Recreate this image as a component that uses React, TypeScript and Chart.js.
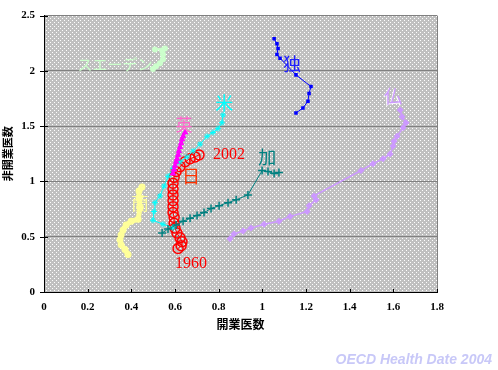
import React, { useEffect, useRef } from "react";
import { Chart, registerables } from "chart.js";
Chart.register(...registerables);

// ---- data (x: 開業医数, y: 非開業医数) ----
const xTickValues = [0, 0.2, 0.4, 0.6, 0.8, 1, 1.2, 1.4, 1.6, 1.8];
const yTickValues = [0, 0.5, 1, 1.5, 2, 2.5];

const japan = [
  [0.614, 0.393], [0.628, 0.419], [0.632, 0.455], [0.623, 0.49], [0.609, 0.534],
  [0.6, 0.578], [0.596, 0.622], [0.596, 0.675], [0.591, 0.719], [0.591, 0.772],
  [0.591, 0.825], [0.591, 0.878], [0.591, 0.931], [0.591, 0.984], [0.596, 1.037],
  [0.605, 1.09], [0.623, 1.134], [0.646, 1.178], [0.669, 1.205], [0.692, 1.222],
  [0.71, 1.24],
];
const germany = [
  [1.154, 1.62], [1.186, 1.664], [1.209, 1.726], [1.214, 1.796], [1.223, 1.858],
  [1.154, 1.964], [1.081, 2.114], [1.067, 2.149], [1.072, 2.202], [1.067, 2.246],
  [1.054, 2.29],
];
const france = [
  [0.852, 0.481], [0.87, 0.525], [0.912, 0.552], [0.948, 0.578], [1.008, 0.613],
  [1.076, 0.64], [1.127, 0.684], [1.205, 0.728], [1.214, 0.781], [1.246, 0.834],
  [1.237, 0.869], [1.452, 1.099], [1.507, 1.161], [1.553, 1.205], [1.585, 1.249],
  [1.599, 1.32], [1.603, 1.364], [1.617, 1.408], [1.645, 1.487], [1.658, 1.531],
  [1.64, 1.584], [1.631, 1.646],
];
const canada = [
  [0.541, 0.534], [0.568, 0.569], [0.605, 0.605], [0.637, 0.64], [0.669, 0.666],
  [0.701, 0.693], [0.733, 0.719], [0.765, 0.755], [0.802, 0.781], [0.843, 0.808],
  [0.88, 0.834], [0.934, 0.878], [0.999, 1.099], [1.026, 1.09], [1.054, 1.072],
  [1.076, 1.081],
];
const usa = [
  [0.591, 0.578], [0.545, 0.613], [0.499, 0.649], [0.504, 0.728], [0.508, 0.808],
  [0.531, 0.869], [0.55, 0.958], [0.568, 1.046], [0.591, 1.117], [0.623, 1.178],
  [0.655, 1.222], [0.683, 1.275], [0.715, 1.337], [0.747, 1.408], [0.774, 1.443],
  [0.797, 1.478], [0.815, 1.531], [0.82, 1.602],
];
const uk = [
  [0.591, 1.072], [0.596, 1.108], [0.6, 1.143], [0.605, 1.178], [0.609, 1.205],
  [0.614, 1.24], [0.618, 1.275], [0.623, 1.311], [0.628, 1.346], [0.632, 1.381],
  [0.637, 1.408], [0.646, 1.443],
];
const netherlands = [
  [0.385, 0.34], [0.371, 0.384], [0.353, 0.428], [0.348, 0.472], [0.353, 0.516],
  [0.362, 0.56], [0.376, 0.605], [0.399, 0.64], [0.431, 0.658], [0.44, 0.763],
  [0.435, 0.852], [0.435, 0.914], [0.449, 0.949],
];
const sweden = [
  [0.499, 2.017], [0.513, 2.043], [0.531, 2.07], [0.545, 2.105], [0.545, 2.149],
  [0.541, 2.184], [0.554, 2.202], [0.508, 2.193],
];

// annotation texts, anchored in data coordinates
const annotations = [
  { text: "スエーデン", x: 0.325, y: 2.061, color: "#CCFFCC", size: 15 },
  { text: "独", x: 1.136, y: 2.061, color: "#2020FF", size: 18 },
  { text: "仏", x: 1.599, y: 1.77, color: "#CC99FF", size: 18, halo: true },
  { text: "米", x: 0.825, y: 1.708, color: "#00FFFF", size: 18 },
  { text: "英", x: 0.641, y: 1.514, color: "#FF66CC", size: 17 },
  { text: "日", x: 0.673, y: 1.046, color: "#FF3300", size: 18 },
  { text: "加", x: 1.022, y: 1.218, color: "#008080", size: 18 },
  { text: "蘭", x: 0.44, y: 0.799, color: "#FFFF99", size: 17 },
  { text: "2002", x: 0.847, y: 1.24, color: "#FF0000", size: 16, serif: true },
  { text: "1960", x: 0.673, y: 0.252, color: "#FF0000", size: 16, serif: true },
];

const xTitle = "開業医数";
const yTitle = "非開業医数";
const footer = "OECD Health Date 2004";

const toPts = (arr: number[][]) => arr.map(([x, y]) => ({ x, y }));
const fmt = (v: number) => String(Math.round(v * 10) / 10);
const CJK = '"Noto Sans CJK JP", sans-serif';

export default function App() {
  const ref = useRef<HTMLCanvasElement | null>(null);

  useEffect(() => {
    const canvas = ref.current!;
    const tile = document.createElement("canvas");
    tile.width = 4;
    tile.height = 4;
    const tctx = tile.getContext("2d")!;
    tctx.fillStyle = "#C0C0C0";
    tctx.fillRect(0, 0, 4, 4);
    tctx.fillStyle = "#FFFFFF";
    tctx.fillRect(0, 0, 1, 1);
    tctx.fillRect(2, 2, 1, 1);
    const pattern = canvas.getContext("2d")!.createPattern(tile, "repeat")!;

    const plugin = {
      id: "decor",
      beforeDraw(chart: any) {
        const { ctx, chartArea: a } = chart;
        ctx.save();
        ctx.fillStyle = "#FFFFFF";
        ctx.fillRect(0, 0, chart.width, chart.height);
        ctx.fillStyle = pattern;
        ctx.fillRect(a.left, a.top, a.right - a.left, a.bottom - a.top);
        ctx.restore();
      },
      afterDatasetsDraw(chart: any) {
        const { ctx } = chart;
        const xs = chart.scales.x;
        const ys = chart.scales.y;
        ctx.save();
        ctx.textAlign = "center";
        ctx.textBaseline = "middle";
        for (const an of annotations) {
          const px = xs.getPixelForValue(an.x);
          const py = ys.getPixelForValue(an.y);
          ctx.font = an.serif
            ? `${an.size}px "Liberation Serif", serif`
            : `${an.size}px ${CJK}`;
          if (an.halo) {
            ctx.fillStyle = "#FFFFFF";
            ctx.fillText(an.text, px - 1, py + 1);
          }
          ctx.fillStyle = an.color;
          ctx.fillText(an.text, px, py);
        }
        ctx.restore();
      },
      afterDraw(chart: any) {
        const { ctx, chartArea: a } = chart;
        const xs = chart.scales.x;
        const ys = chart.scales.y;
        ctx.save();
        // right border
        ctx.strokeStyle = "#808080";
        ctx.lineWidth = 1;
        ctx.beginPath();
        ctx.moveTo(Math.round(a.right) + 0.5, a.top);
        ctx.lineTo(Math.round(a.right) + 0.5, a.bottom);
        ctx.stroke();
        // tick marks
        ctx.strokeStyle = "#000000";
        ctx.beginPath();
        for (const v of yTickValues) {
          const py = Math.round(ys.getPixelForValue(v)) + 0.5;
          ctx.moveTo(a.left - 4, py);
          ctx.lineTo(a.left + 4, py);
        }
        for (const v of xTickValues) {
          const px = Math.round(xs.getPixelForValue(v)) + 0.5;
          ctx.moveTo(px, a.bottom - 3);
          ctx.lineTo(px, a.bottom);
        }
        ctx.stroke();
        // axis titles
        ctx.fillStyle = "#000000";
        ctx.textAlign = "center";
        ctx.textBaseline = "middle";
        ctx.font = `bold 12px ${CJK}`;
        ctx.fillText(xTitle, (a.left + a.right) / 2, 324);
        ctx.save();
        ctx.translate(8, (a.top + a.bottom) / 2);
        ctx.rotate(-Math.PI / 2);
        ctx.font = `bold 11px ${CJK}`;
        ctx.fillText(yTitle, 0, 0);
        ctx.restore();
        // footer
        ctx.font = 'italic bold 14px "Liberation Sans", Arial, sans-serif';
        ctx.fillStyle = "#C8C8F8";
        ctx.textAlign = "right";
        ctx.fillText(footer, 492, 360);
        ctx.restore();
      },
    };

    const tickFont = { family: '"Liberation Serif", serif', weight: "bold" as const, size: 11 };

    const chart = new Chart(canvas, {
      type: "scatter",
      data: {
        datasets: [
          {
            label: "加", data: toPts(canada), showLine: true,
            borderColor: "#008080", backgroundColor: "#008080", borderWidth: 1,
            pointStyle: "cross", pointRadius: 4, pointBorderWidth: 1.5,
          },
          {
            label: "英", data: toPts(uk), showLine: true,
            borderColor: "#FF00FF", backgroundColor: "#FF00FF", borderWidth: 2,
            pointStyle: "triangle", pointRadius: 3, pointBorderWidth: 1,
          },
          {
            label: "米", data: toPts(usa), showLine: true,
            borderColor: "#00FFFF", backgroundColor: "#00FFFF", borderWidth: 1,
            pointStyle: "star", pointRadius: 3, pointBorderWidth: 1,
          },
          {
            label: "蘭", data: toPts(netherlands), showLine: true,
            borderColor: "#FFFF99", backgroundColor: "#FFFF99", borderWidth: 5,
            pointStyle: "circle", pointRadius: 3.5, pointBorderWidth: 0,
          },
          {
            label: "スエーデン", data: toPts(sweden), showLine: true,
            borderColor: "#CCFFCC", backgroundColor: "#CCFFCC", borderWidth: 2,
            pointStyle: "circle", pointRadius: 3, pointBorderWidth: 0,
          },
          {
            label: "独", data: toPts(germany), showLine: true,
            borderColor: "#0000FF", backgroundColor: "#0000FF", borderWidth: 1,
            pointStyle: "rect", pointRadius: 2.5, pointBorderWidth: 0,
          },
          {
            label: "仏", data: toPts(france), showLine: true,
            borderColor: "#CC99FF", backgroundColor: "#CC99FF", borderWidth: 1.5,
            pointStyle: "rectRot", pointRadius: 3.5, pointBorderWidth: 0,
          },
          {
            label: "日", data: toPts(japan), showLine: true,
            borderColor: "#FF0000", backgroundColor: "rgba(0,0,0,0)", borderWidth: 1,
            pointStyle: "circle", pointRadius: 5, pointBorderWidth: 1.5,
          },
        ],
      },
      options: {
        animation: false,
        responsive: false,
        devicePixelRatio: 1,
        events: [],
        layout: { padding: { top: 8, right: 61, left: 0, bottom: 0 } },
        plugins: { legend: { display: false }, tooltip: { enabled: false } },
        scales: {
          x: {
            type: "linear", min: 0, max: 1.8,
            afterBuildTicks: (s: any) => { s.ticks = xTickValues.map((value) => ({ value })); },
            afterFit: (s: any) => { s.height = 78; },
            grid: { drawOnChartArea: false, drawTicks: false },
            border: { color: "#000000", width: 1 },
            ticks: { color: "#000000", font: tickFont, padding: 9, maxRotation: 0, autoSkip: false, callback: (v: any) => fmt(Number(v)) },
          },
          y: {
            type: "linear", min: 0, max: 2.5,
            afterBuildTicks: (s: any) => { s.ticks = yTickValues.map((value) => ({ value })); },
            afterFit: (s: any) => { s.width = 44; },
            grid: { color: "#808080", lineWidth: 1, drawTicks: false },
            border: { color: "#000000", width: 1 },
            ticks: { color: "#000000", font: tickFont, padding: 9, autoSkip: false, callback: (v: any) => fmt(Number(v)) },
          },
        },
      },
      plugins: [plugin],
    } as any);

    return () => chart.destroy();
  }, []);

  return (
    <div style={{ position: "absolute", left: 0, top: 0, width: 498, height: 370, background: "#fff" }}>
      <canvas ref={ref} width={498} height={370} style={{ display: "block", width: 498, height: 370 }} />
    </div>
  );
}
